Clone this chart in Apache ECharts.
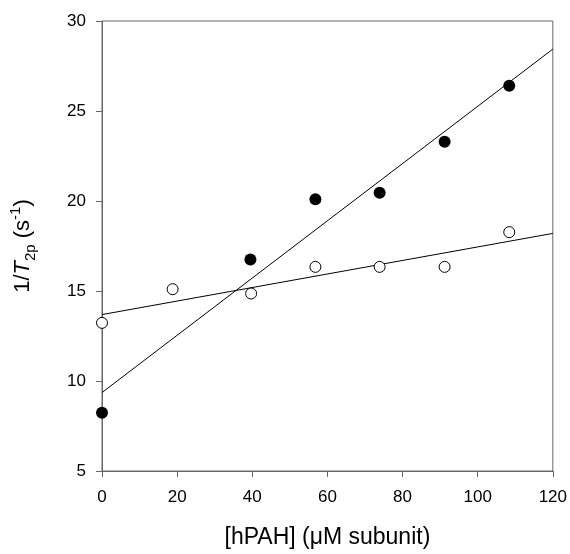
<!DOCTYPE html>
<html>
<head>
<meta charset="utf-8">
<script src="https://cdn.jsdelivr.net/npm/echarts@6/dist/echarts.min.js"></script>
<style>
  html, body { margin: 0; padding: 0; background: #fff; }
  #chart { width: 570px; height: 554px; }
</style>
</head>
<body>
<div id="chart"></div>
<script>
// Relaxation rate vs. hPAH concentration: two data sets with linear fits
const xFilled = [0, 39.5, 56.8, 73.9, 91.2, 108.4];
const yFilled = [8.23, 16.75, 20.1, 20.46, 23.29, 26.4];

const xOpen = [0, 18.8, 39.7, 56.8, 73.9, 91.2, 108.4];
const yOpen = [13.23, 15.1, 14.86, 16.34, 16.34, 16.34, 18.27];

// Fitted lines, evaluated at the ends of the x range
const fitX = [0, 120];
const fitFilled = [9.36, 28.44];
const fitOpen = [13.69, 18.2];

const xTicks = [0, 20, 40, 60, 80, 100, 120];
const yTicks = [5, 10, 15, 20, 25, 30];

const pairs = (xs, ys) => xs.map((x, i) => [x, ys[i]]);

const FONT = '"Liberation Sans", Arial, sans-serif';
const AXIS_GRAY = '#666666';

const chart = echarts.init(document.getElementById('chart'), null, { renderer: 'canvas' });

chart.setOption({
  animation: false,
  backgroundColor: '#ffffff',
  grid: {
    left: 102, right: 17, top: 21, bottom: 83,
    show: true, borderColor: AXIS_GRAY, borderWidth: 1
  },
  xAxis: {
    type: 'value',
    min: xTicks[0], max: xTicks[xTicks.length - 1], interval: 20,
    splitLine: { show: false },
    axisLine: { lineStyle: { color: AXIS_GRAY, width: 1 } },
    axisTick: { show: true, inside: false, length: 6, lineStyle: { color: AXIS_GRAY } },
    axisLabel: { color: '#000', fontSize: 17, fontFamily: FONT, margin: 18 },
    name: '[hPAH] (\u03bcM subunit)',
    nameLocation: 'middle',
    nameGap: 55,
    nameTextStyle: { color: '#000', fontSize: 23, fontFamily: FONT }
  },
  yAxis: {
    type: 'value',
    min: yTicks[0], max: yTicks[yTicks.length - 1], interval: 5,
    splitLine: { show: false },
    axisLine: { lineStyle: { color: AXIS_GRAY, width: 1 } },
    axisTick: { show: true, inside: false, length: 6, lineStyle: { color: AXIS_GRAY } },
    axisLabel: { color: '#000', fontSize: 17, fontFamily: FONT, margin: 16 },
    name: '{a|1/}{i|T}{sub|2p}{a| (s}{sup|-1}{a|)}',
    nameLocation: 'middle',
    nameGap: 64,
    nameTextStyle: {
      color: '#000', fontSize: 22, fontFamily: FONT,
      rich: {
        a: { fontSize: 22, fontFamily: FONT, color: '#000', lineHeight: 30 },
        i: { fontSize: 22, fontFamily: FONT, color: '#000', fontStyle: 'italic', lineHeight: 30 },
        sub: { fontSize: 15, fontFamily: FONT, color: '#000', lineHeight: 16, verticalAlign: 'bottom' },
        sup: { fontSize: 15, fontFamily: FONT, color: '#000', lineHeight: 16, verticalAlign: 'top' }
      }
    }
  },
  series: [
    {
      name: 'fit filled',
      type: 'line',
      data: pairs(fitX, fitFilled),
      showSymbol: false,
      symbol: 'none',
      lineStyle: { color: '#000', width: 1 },
      z: 2
    },
    {
      name: 'fit open',
      type: 'line',
      data: pairs(fitX, fitOpen),
      showSymbol: false,
      symbol: 'none',
      lineStyle: { color: '#000', width: 1 },
      z: 2
    },
    {
      name: 'filled',
      type: 'scatter',
      data: pairs(xFilled, yFilled),
      symbol: 'circle',
      symbolSize: 12,
      itemStyle: { color: '#000', borderColor: '#000', borderWidth: 0, opacity: 1 },
      z: 5
    },
    {
      name: 'open',
      type: 'scatter',
      data: pairs(xOpen, yOpen),
      symbol: 'circle',
      symbolSize: 11,
      itemStyle: { color: '#fff', borderColor: '#000', borderWidth: 1, opacity: 1 },
      z: 5
    }
  ]
});
</script>
</body>
</html>
